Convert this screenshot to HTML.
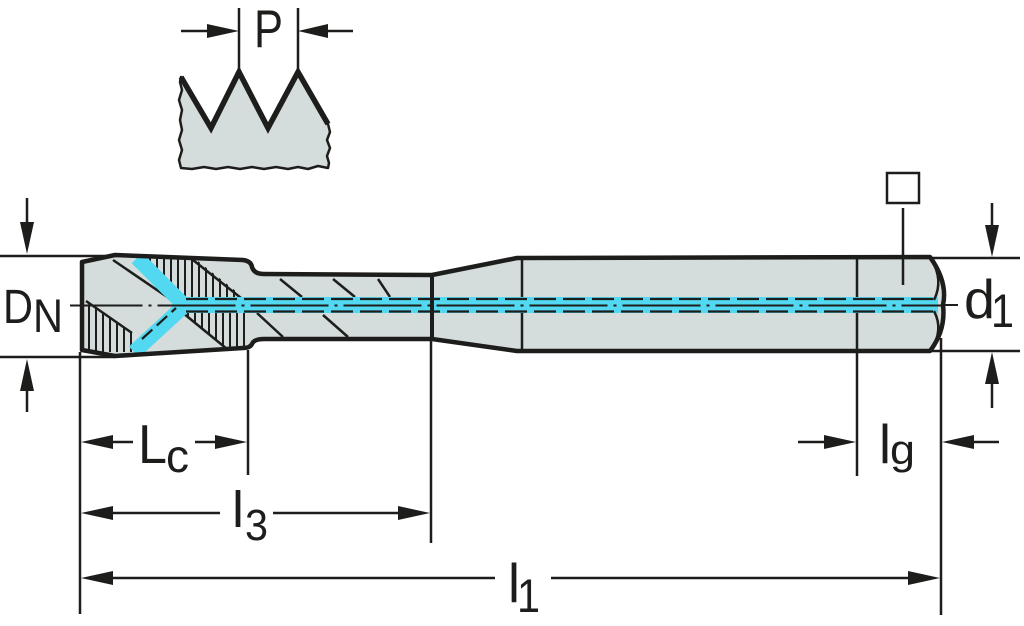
<!DOCTYPE html>
<html><head><meta charset="utf-8"><style>
html,body{margin:0;padding:0;background:#fff;}
svg{display:block;}
text{font-family:"Liberation Sans",sans-serif;fill:#1d1d1b;}
</style></head><body>
<svg width="1024" height="626" viewBox="0 0 1024 626" xmlns="http://www.w3.org/2000/svg">
<defs>
<clipPath id="ht"><polygon points="140,258 194,258 242,296 242,300 184,300"/></clipPath>
<clipPath id="hbl"><polygon points="85,302 133,334 133,352 85,352"/></clipPath>
<clipPath id="hbr"><polygon points="183,312 249,312 249,350 228,350"/></clipPath>
<clipPath id="body"><path d="M82,262 L115,255 L243,260 Q251,261 252,267 Q254,274 264,274 L432,275 L517,258 L930,257 Q948,282 943,305 Q946,330 930,351 L517,351 L432,339 L264,339 Q254,339 252,344 Q250,348 243,348 L115,356 L82,350 Z"/></clipPath>
</defs>
<rect width="1024" height="626" fill="#fff"/>

<!-- Thread profile -->
<path d="M181,77 L211,128 L239,72 L268,128 L298,72 L328,124 L330,132 L327,140 L330,148 L327,156 L329,163 L328,168 L318,166 L308,169 L298,167 L288,169 L276,167 L264,169 L252,167 L240,169 L228,167 L216,169 L204,167 L192,169 L181,168 L179,160 L182,150 L179,140 L182,130 L180,120 L182,110 L179,100 L182,90 L180,82 Z" fill="#d4dcdc" stroke="#1d1d1b" stroke-width="2.5" stroke-linejoin="round"/>
<path d="M181,77 L211,128 L239,72 L268,128 L298,72 L328,124" fill="none" stroke="#1d1d1b" stroke-width="5.5" stroke-linejoin="miter"/>
<g stroke="#1d1d1b" stroke-width="2.5">
<line x1="239" y1="8" x2="239" y2="72"/>
<line x1="298" y1="8" x2="298" y2="72"/>
<line x1="181" y1="31" x2="212" y2="31"/>
<line x1="326" y1="31" x2="353" y2="31"/>
</g>
<polygon points="239,31 207,24 207,38" fill="#1d1d1b"/>
<polygon points="298,31 328,24 328,38" fill="#1d1d1b"/>
<text x="254" y="47" font-size="53" textLength="29" lengthAdjust="spacingAndGlyphs">P</text>

<!-- Body fill -->
<path d="M82,262 L115,255 L243,260 Q251,261 252,267 Q254,274 264,274 L432,275 L517,258 L930,257 Q948,282 943,305 Q946,330 930,351 L517,351 L432,339 L264,339 Q254,339 252,344 Q250,348 243,348 L115,356 L82,350 Z" fill="#d4dcdc"/>

<!-- Hatching -->
<g stroke="#1d1d1b" stroke-width="2">
<g clip-path="url(#ht)">
<line x1="143" y1="255" x2="143" y2="302"/><line x1="150" y1="255" x2="150" y2="302"/><line x1="157" y1="255" x2="157" y2="302"/><line x1="164" y1="255" x2="164" y2="302"/><line x1="171" y1="255" x2="171" y2="302"/><line x1="178" y1="255" x2="178" y2="302"/><line x1="185" y1="255" x2="185" y2="302"/><line x1="192" y1="255" x2="192" y2="302"/><line x1="199" y1="255" x2="199" y2="302"/><line x1="206" y1="255" x2="206" y2="302"/><line x1="213" y1="255" x2="213" y2="302"/><line x1="220" y1="255" x2="220" y2="302"/><line x1="227" y1="255" x2="227" y2="302"/><line x1="234" y1="255" x2="234" y2="302"/>
</g>
<g clip-path="url(#hbl)">
<line x1="89" y1="300" x2="89" y2="352"/><line x1="96" y1="300" x2="96" y2="352"/><line x1="103" y1="300" x2="103" y2="352"/><line x1="110" y1="300" x2="110" y2="352"/><line x1="117" y1="300" x2="117" y2="352"/><line x1="124" y1="300" x2="124" y2="352"/><line x1="131" y1="300" x2="131" y2="352"/>
</g>
<g clip-path="url(#hbr)">
<line x1="188" y1="310" x2="188" y2="352"/><line x1="195" y1="310" x2="195" y2="352"/><line x1="202" y1="310" x2="202" y2="352"/><line x1="209" y1="310" x2="209" y2="352"/><line x1="216" y1="310" x2="216" y2="352"/><line x1="223" y1="310" x2="223" y2="352"/><line x1="230" y1="310" x2="230" y2="352"/><line x1="237" y1="310" x2="237" y2="352"/><line x1="244" y1="310" x2="244" y2="352"/>
</g>
</g>

<!-- internal lines -->
<g stroke="#1d1d1b" stroke-width="2.5" clip-path="url(#body)">
<line x1="113" y1="260" x2="176" y2="303"/>
<line x1="193" y1="260" x2="241" y2="298"/>
<line x1="86" y1="301" x2="132" y2="333"/>
<line x1="183" y1="313" x2="227" y2="349"/>
<line x1="280" y1="279" x2="302" y2="297"/>
<line x1="333" y1="279" x2="355" y2="297"/>
<line x1="378" y1="279" x2="390" y2="297"/>
<line x1="257" y1="313" x2="283" y2="337"/>
<line x1="323" y1="315" x2="348" y2="337"/>
<line x1="522" y1="257" x2="522" y2="352"/>
<line x1="857" y1="257" x2="857" y2="352"/>
<line x1="903" y1="250" x2="903" y2="285"/>
</g>

<!-- coolant -->
<g clip-path="url(#body)">
<line x1="137" y1="258" x2="184" y2="305" stroke="#52d8f0" stroke-width="15"/>
<line x1="134" y1="352" x2="184" y2="306" stroke="#52d8f0" stroke-width="15"/>
<rect x="178" y="297" width="760" height="16" fill="#52d8f0"/>
</g>
<g stroke="#1d1d1b" stroke-width="2.2" fill="none" clip-path="url(#body)">
<line x1="142" y1="339" x2="176" y2="308" stroke-dasharray="14 6"/>
<line x1="186" y1="299" x2="937" y2="299" stroke-dasharray="22 7"/>
<line x1="186" y1="311.5" x2="937" y2="311.5" stroke-dasharray="22 7"/>
</g>
<line x1="70" y1="305.5" x2="945" y2="305.5" stroke="#1d1d1b" stroke-width="2" stroke-dasharray="78 6 3 6" stroke-dashoffset="5.5"/>
<line x1="943" y1="305" x2="958" y2="305" stroke="#1d1d1b" stroke-width="2"/>

<!-- neck/taper vertical and chamfer arcs -->
<line x1="432" y1="275" x2="432" y2="339" stroke="#1d1d1b" stroke-width="4"/>
<path d="M931,259 Q944,280 934,300 M934,311 Q944,330 931,350" fill="none" stroke="#1d1d1b" stroke-width="2.5"/>

<!-- outline -->
<path d="M82,262 L115,255 L243,260 Q251,261 252,267 Q254,274 264,274 L432,275 L517,258 L930,257 Q948,282 943,305 Q946,330 930,351 L517,351 L432,339 L264,339 Q254,339 252,344 Q250,348 243,348 L115,356 L82,350 Z" fill="none" stroke="#1d1d1b" stroke-width="4.5" stroke-linejoin="round"/>

<!-- square symbol -->
<rect x="887" y="173" width="32" height="30" fill="none" stroke="#1d1d1b" stroke-width="2.5"/>
<line x1="903" y1="208" x2="903" y2="258" stroke="#1d1d1b" stroke-width="2.5"/>

<!-- dimension lines -->
<g stroke="#1d1d1b" stroke-width="2.5">
<line x1="0" y1="256" x2="115" y2="256"/>
<line x1="0" y1="357" x2="115" y2="357"/>
<line x1="27" y1="198" x2="27" y2="226"/>
<line x1="27" y1="388" x2="27" y2="412"/>
<line x1="80" y1="352" x2="80" y2="614"/>
<line x1="248" y1="350" x2="248" y2="475"/>
<line x1="431" y1="341" x2="431" y2="543"/>
<line x1="857" y1="352" x2="857" y2="476"/>
<line x1="941" y1="338" x2="941" y2="615"/>
<line x1="932" y1="258" x2="1020" y2="258"/>
<line x1="932" y1="351" x2="1020" y2="351"/>
<line x1="992" y1="203" x2="992" y2="228"/>
<line x1="992" y1="382" x2="992" y2="408"/>
<line x1="110" y1="442" x2="133" y2="442"/>
<line x1="195" y1="442" x2="218" y2="442"/>
<line x1="110" y1="513" x2="220" y2="513"/>
<line x1="273" y1="513" x2="402" y2="513"/>
<line x1="110" y1="578" x2="495" y2="578"/>
<line x1="551" y1="578" x2="912" y2="578"/>
<line x1="798" y1="442" x2="828" y2="442"/>
<line x1="970" y1="442" x2="999" y2="442"/>
</g>
<g fill="#1d1d1b">
<polygon points="27,254 20,222 34,222"/>
<polygon points="27,359 20,391 34,391"/>
<polygon points="992,257 985,225 999,225"/>
<polygon points="992,352 985,384 999,384"/>
<polygon points="81,442 113,435 113,449"/>
<polygon points="247,442 215,435 215,449"/>
<polygon points="81,513 113,506 113,520"/>
<polygon points="430,513 398,506 398,520"/>
<polygon points="81,578 113,571 113,585"/>
<polygon points="940,578 908,571 908,585"/>
<polygon points="856,442 824,435 824,449"/>
<polygon points="942,442 974,435 974,449"/>
</g>

<!-- labels -->
<text x="3" y="323" font-size="48" textLength="30" lengthAdjust="spacingAndGlyphs">D</text>
<text x="33" y="332" font-size="47" textLength="30" lengthAdjust="spacingAndGlyphs">N</text>
<text x="138" y="463" font-size="55" textLength="29" lengthAdjust="spacingAndGlyphs">L</text>
<text x="166" y="472" font-size="46" textLength="23" lengthAdjust="spacingAndGlyphs">c</text>
<text x="232" y="527" font-size="51" textLength="12" lengthAdjust="spacingAndGlyphs">l</text>
<text x="245" y="540" font-size="44" textLength="23" lengthAdjust="spacingAndGlyphs">3</text>
<text x="508" y="602" font-size="55" textLength="12" lengthAdjust="spacingAndGlyphs">l</text>
<text x="517" y="612" font-size="47" textLength="23" lengthAdjust="spacingAndGlyphs">1</text>
<text x="879" y="463" font-size="55" textLength="12" lengthAdjust="spacingAndGlyphs">l</text>
<text x="890" y="464" font-size="42" textLength="25" lengthAdjust="spacingAndGlyphs">g</text>
<text x="964" y="318" font-size="55" textLength="31" lengthAdjust="spacingAndGlyphs">d</text>
<text x="991" y="327" font-size="47" textLength="23" lengthAdjust="spacingAndGlyphs">1</text>
</svg>
</body></html>
